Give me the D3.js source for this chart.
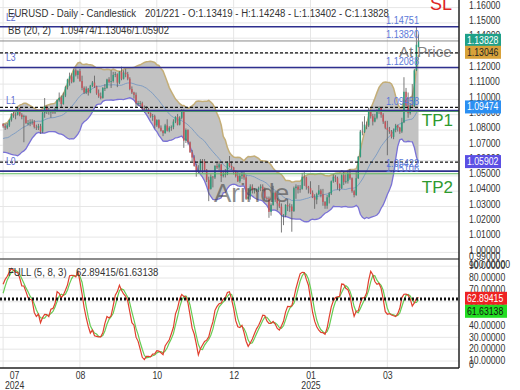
<!DOCTYPE html>
<html>
<head>
<meta charset="utf-8">
<script src="https://cdn.jsdelivr.net/npm/d3@7.9.0/dist/d3.min.js"></script>
<style>
  body { margin: 0; background: #fff; }
  svg { display: block; font-family: "Liberation Sans", Arial, sans-serif; }
</style>
</head>
<body>
<svg id="chart" width="520" height="390"></svg>
<script>
// daily candles, one per trading day (index 0..200)
const opens = [
  1.0840,1.0825,1.0815,1.0830,1.0865,1.0905,1.0895,1.0900,1.0940,1.0900,
  1.0885,1.0890,1.0845,1.0845,1.0850,1.0855,1.0820,1.0815,1.0825,1.0790,
  1.0910,1.0955,1.0930,1.0920,1.0920,1.0915,1.0935,1.0995,1.1010,1.0970,
  1.1025,1.1080,1.1130,1.1150,1.1115,1.1190,1.1160,1.1185,1.1120,1.1075,
  1.1045,1.1070,1.1045,1.1090,1.1110,1.1085,1.1040,1.1020,1.1010,1.1075,
  1.1075,1.1130,1.1115,1.1120,1.1160,1.1165,1.1110,1.1180,1.1135,1.1175,
  1.1165,1.1135,1.1068,1.1045,1.1030,1.0975,1.0975,1.0975,1.0940,1.0935,
  1.0935,1.0910,1.0890,1.0890,1.0830,1.0865,1.0815,1.0795,1.0780,1.0830,
  1.0795,1.0815,1.0820,1.0855,1.0885,1.0835,1.0880,1.0930,1.0730,1.0800,
  1.0720,1.0655,1.0620,1.0565,1.0530,1.0540,1.0600,1.0595,1.0540,1.0475,
  1.0415,1.0495,1.0490,1.0565,1.0555,1.0575,1.0500,1.0510,1.0512,1.0585,
  1.0565,1.0555,1.0525,1.0500,1.0465,1.0500,1.0510,1.0490,1.0350,1.0365,
  1.0430,1.0405,1.0405,1.0410,1.0420,1.0430,1.0410,1.0355,1.0352,1.0265,
  1.0310,1.0390,1.0345,1.0320,1.0300,1.0245,1.0245,1.0310,1.0300,1.0300,
  1.0270,1.0420,1.0430,1.0410,1.0415,1.0495,1.0490,1.0430,1.0420,1.0390,
  1.0360,1.0345,1.0380,1.0405,1.0380,1.0330,1.0305,1.0360,1.0385,1.0465,
  1.0495,1.0485,1.0445,1.0420,1.0505,1.0460,1.0465,1.0515,1.0485,1.0400,
  1.0375,1.0485,1.0625,1.0790,1.0785,1.0835,1.0830,1.0920,1.0890,1.0855,
  1.0880,1.0920,1.0945,1.0900,1.0855,1.0815,1.0800,1.0790,1.0755,1.0800,
  1.0830,1.0815,1.0790,1.0850,1.1050,1.0960,1.0910,1.0960,1.0955,1.1190,
  1.13419
];
const highs = [
  1.0845,1.0840,1.0845,1.0870,1.0910,1.0920,1.0915,1.0948,1.0945,1.0910,
  1.0900,1.0895,1.0865,1.0870,1.0870,1.0865,1.0835,1.0840,1.0840,1.0925,
  1.1009,1.0960,1.0945,1.0935,1.0935,1.0945,1.1000,1.1045,1.1025,1.1045,
  1.1090,1.1135,1.1175,1.1170,1.1200,1.1202,1.1190,1.1200,1.1155,1.1085,
  1.1085,1.1075,1.1095,1.1120,1.1155,1.1090,1.1065,1.1045,1.1080,1.1100,
  1.1135,1.1145,1.1190,1.1180,1.1180,1.1170,1.1185,1.1214,1.1190,1.1200,
  1.1180,1.1145,1.1085,1.1050,1.1045,1.0990,1.0990,1.0985,1.0960,1.0955,
  1.0945,1.0915,1.0905,1.0900,1.0870,1.0870,1.0830,1.0800,1.0840,1.0870,
  1.0825,1.0830,1.0870,1.0890,1.0905,1.0890,1.0937,1.0935,1.0810,1.0805,
  1.0725,1.0670,1.0635,1.0580,1.0570,1.0610,1.0610,1.0610,1.0545,1.0495,
  1.0510,1.0500,1.0570,1.0590,1.0595,1.0580,1.0535,1.0545,1.0595,1.0630,
  1.0595,1.0560,1.0535,1.0530,1.0520,1.0525,1.0525,1.0505,1.0415,1.0445,
  1.0445,1.0420,1.0415,1.0430,1.0445,1.0445,1.0425,1.0365,1.0365,1.0320,
  1.0435,1.0400,1.0355,1.0335,1.0320,1.0250,1.0315,1.0350,1.0320,1.0315,
  1.0430,1.0445,1.0440,1.0440,1.0520,1.0533,1.0495,1.0435,1.0465,1.0405,
  1.0380,1.0390,1.0440,1.0415,1.0415,1.0335,1.0375,1.0395,1.0470,1.0510,
  1.0505,1.0495,1.0450,1.0510,1.0530,1.0510,1.0530,1.0545,1.0490,1.0410,
  1.0525,1.0630,1.0800,1.0855,1.0890,1.0855,1.0947,1.0930,1.0905,1.0905,
  1.0935,1.0955,1.0950,1.0910,1.0860,1.0860,1.0820,1.0800,1.0810,1.0840,
  1.0835,1.0820,1.0880,1.1145,1.1075,1.1045,1.0975,1.1100,1.1200,1.1475,
  1.14248
];
const lows = [
  1.0815,1.0800,1.0805,1.0820,1.0855,1.0880,1.0870,1.0895,1.0890,1.0870,
  1.0720,1.0840,1.0830,1.0825,1.0835,1.0810,1.0800,1.0800,1.0775,1.0780,
  1.0880,1.0905,1.0900,1.0880,1.0905,1.0905,1.0925,1.0985,1.0950,1.0965,
  1.1015,1.1065,1.1090,1.1105,1.1110,1.1150,1.1135,1.1115,1.1060,1.1035,
  1.1035,1.1025,1.1040,1.1080,1.1075,1.1030,1.1010,1.1000,1.1005,1.1055,
  1.1070,1.1105,1.1075,1.1110,1.1145,1.1080,1.1100,1.1125,1.1130,1.1145,
  1.1125,1.1060,1.1035,1.1005,1.0950,1.0955,1.0955,1.0930,1.0915,1.0920,
  1.0905,1.0880,1.0860,1.0810,1.0820,1.0810,1.0790,1.0760,1.0775,1.0790,
  1.0785,1.0795,1.0805,1.0845,1.0830,1.0830,1.0870,1.0683,1.0715,1.0705,
  1.0650,1.0595,1.0560,1.0495,1.0515,1.0525,1.0520,1.0525,1.0460,1.0335,
  1.0410,1.0425,1.0480,1.0545,1.0535,1.0460,1.0490,1.0490,1.0505,1.0555,
  1.0540,1.0510,1.0490,1.0460,1.0455,1.0480,1.0475,1.0343,1.0345,1.0345,
  1.0385,1.0385,1.0395,1.0395,1.0400,1.0400,1.0345,1.0340,1.0226,1.0240,
  1.0305,1.0330,1.0275,1.0290,1.0130,1.0178,1.0230,1.0270,1.0265,1.0135,
  1.0265,1.0350,1.0385,1.0390,1.0410,1.0435,1.0410,1.0385,1.0380,1.0355,
  1.0285,1.0315,1.0375,1.0360,1.0305,1.0285,1.0285,1.0320,1.0375,1.0455,
  1.0460,1.0410,1.0400,1.0415,1.0440,1.0450,1.0450,1.0475,1.0390,1.0360,
  1.0370,1.0480,1.0620,1.0765,1.0780,1.0805,1.0820,1.0875,1.0830,1.0850,
  1.0870,1.0905,1.0880,1.0840,1.0805,1.0635,1.0775,1.0745,1.0740,1.0785,
  1.0790,1.0775,1.0780,1.0845,1.0955,1.0880,1.0900,1.0955,1.0950,1.1185,
  1.13402
];
const closes = [
  1.0825,1.0815,1.0830,1.0865,1.0905,1.0895,1.0900,1.0940,1.0900,1.0885,
  1.0890,1.0845,1.0845,1.0850,1.0855,1.0820,1.0815,1.0825,1.0790,1.0910,
  1.0955,1.0930,1.0920,1.0920,1.0915,1.0935,1.0995,1.1010,1.0970,1.1025,
  1.1080,1.1130,1.1150,1.1115,1.1190,1.1160,1.1185,1.1120,1.1075,1.1045,
  1.1070,1.1045,1.1090,1.1110,1.1085,1.1040,1.1020,1.1010,1.1075,1.1075,
  1.1130,1.1115,1.1120,1.1160,1.1165,1.1110,1.1180,1.1135,1.1175,1.1165,
  1.1135,1.1068,1.1045,1.1030,1.0975,1.0975,1.0975,1.0940,1.0935,1.0935,
  1.0910,1.0890,1.0890,1.0830,1.0865,1.0815,1.0795,1.0780,1.0830,1.0795,
  1.0815,1.0820,1.0855,1.0885,1.0835,1.0880,1.0930,1.0730,1.0800,1.0720,
  1.0655,1.0620,1.0565,1.0530,1.0540,1.0600,1.0595,1.0540,1.0475,1.0415,
  1.0495,1.0490,1.0565,1.0555,1.0575,1.0500,1.0510,1.0512,1.0585,1.0565,
  1.0555,1.0525,1.0500,1.0465,1.0500,1.0510,1.0490,1.0350,1.0365,1.0430,
  1.0405,1.0405,1.0410,1.0420,1.0430,1.0410,1.0355,1.0352,1.0265,1.0310,
  1.0390,1.0345,1.0320,1.0300,1.0245,1.0245,1.0310,1.0300,1.0300,1.0270,
  1.0420,1.0430,1.0410,1.0415,1.0495,1.0490,1.0430,1.0420,1.0390,1.0360,
  1.0345,1.0380,1.0405,1.0380,1.0330,1.0305,1.0360,1.0385,1.0465,1.0495,
  1.0485,1.0445,1.0420,1.0505,1.0460,1.0465,1.0515,1.0485,1.0400,1.0375,
  1.0485,1.0625,1.0790,1.0785,1.0835,1.0830,1.0920,1.0890,1.0855,1.0880,
  1.0920,1.0945,1.0900,1.0855,1.0815,1.0800,1.0790,1.0755,1.0800,1.0830,
  1.0815,1.0790,1.0850,1.1050,1.0960,1.0910,1.0960,1.0955,1.1190,1.1357,
  1.13828
];
// 20 sessions before the first visible candle (warm-up for BB and stochastic)
const priorHighs = [1.0780,1.0770,1.0850,1.0810,1.0745,1.0740,1.0760,1.0750,1.0745,1.0710,
                    1.0745,1.0740,1.0720,1.0720,1.0720,1.0775,1.0750,1.0800,1.0815,1.0845];
const priorLows = [1.0720,1.0720,1.0735,1.0735,1.0670,1.0700,1.0715,1.0720,1.0690,1.0670,
                   1.0690,1.0700,1.0675,1.0680,1.0690,1.0710,1.0710,1.0735,1.0785,1.0800];
const priorCloses = [1.0765,1.0740,1.0805,1.0740,1.0705,1.0735,1.0735,1.0745,1.0700,1.0690,
                     1.0735,1.0715,1.0680,1.0700,1.0713,1.0740,1.0745,1.0790,1.0810,1.0840];

// axes
const xTickIdx = [0, 37, 74, 111, 148, 185];
const xTickLabels = ['07', '08', '10', '12', '01', '03'];
const xTickYears = ['2024', '', '', '', '2025', ''];
const priceTicks = [0.99,1.00,1.01,1.02,1.03,1.04,1.05,1.06,1.07,1.08,1.09,1.10,1.11,1.12,1.13,1.14,1.15,1.16];
const stochTicks = [0,10,20,30,40,50,60,70,80,90,100];

// drawn levels
const levelNames = ['L2', 'L3', 'L1', 'L0'];
const levelValues = [1.14751, 1.12088, 1.09277, 1.05313];
const targetNames = ['TP1', 'TP2'];
const targetValues = [1.0922, 1.0514];
const lastPriceLine = 1.13820;
const bbNow = [1.13046, 1.09474, 1.05902];
const lineTags = ['1.14751', '1.13820', '1.12088', '1.09458', '1.05422', '1.05106'];
const lineTagValues = [1.14751, 1.13820, 1.12088, 1.09458, 1.05422, 1.05106];
const priceBoxValues = [1.13828, 1.13046, 1.09474, 1.05902];
const stochNow = [62.89415, 61.63138];

const W = 520, plotR = 459, mainB = 259, stochB = 368;
const svg = d3.select('#chart');

const x = d3.scaleLinear().domain([-1.5, 219.5]).range([0, plotR]);
const y = d3.scaleLinear().domain([0.99, 1.16]).range([267.7, 7.6]);
const ys = d3.scaleLinear().domain([0, 100]).range([372.9, 254.3]);

function squeezed(parent, px, py, str, size, fill, anchor = 'start') {
  return parent.append('g')
    .attr('transform', `translate(${px},${py}) scale(0.87,1)`)
    .append('text')
    .attr('text-anchor', anchor)
    .attr('font-size', size)
    .attr('fill', fill)
    .text(str);
}

const defs = svg.append('defs');
defs.append('clipPath').attr('id', 'clipMain')
  .append('rect').attr('x', 0).attr('y', 0).attr('width', plotR).attr('height', mainB);
defs.append('clipPath').attr('id', 'clipStoch')
  .append('rect').attr('x', 0).attr('y', mainB).attr('width', plotR).attr('height', stochB - mainB);

// indicators
const off = priorCloses.length;
const allC = priorCloses.concat(closes);
const allH = priorHighs.concat(highs);
const allL = priorLows.concat(lows);

const bands = closes.map((c, i) => {
  const w = allC.slice(i + off - 19, i + off + 1);
  const m = d3.mean(w);
  const sd = Math.sqrt(d3.mean(w, v => (v - m) ** 2));
  return { i, mid: m, up: m + 2 * sd, lo: m - 2 * sd };
});

const rawK = allC.map((c, j) => {
  if (j < 4) return null;
  const hh = d3.max(allH.slice(j - 4, j + 1));
  const ll = d3.min(allL.slice(j - 4, j + 1));
  return 100 * (c - ll) / (hh - ll);
});
const fullK = rawK.map((v, j) => j < 11 ? null : d3.mean(rawK.slice(j - 7, j + 1)));
const fullD = fullK.map((v, j) => j < 13 ? null : d3.mean(fullK.slice(j - 2, j + 1)));
const stoch = closes.map((c, i) => ({ i, k: fullK[i + off], d: fullD[i + off] }));

// grid
const grid = svg.append('g');
grid.append('g').attr('clip-path', 'url(#clipMain)')
  .selectAll('line').data(priceTicks).join('line')
  .attr('x1', 0).attr('x2', plotR)
  .attr('y1', d => y(d)).attr('y2', d => y(d))
  .attr('stroke', '#e6e6e6');
grid.append('g').attr('clip-path', 'url(#clipStoch)')
  .selectAll('line').data(stochTicks).join('line')
  .attr('x1', 0).attr('x2', plotR)
  .attr('y1', d => ys(d)).attr('y2', d => ys(d))
  .attr('stroke', '#e6e6e6');
grid.selectAll('line.v').data(xTickIdx).join('line').attr('class', 'v')
  .attr('x1', d => x(d)).attr('x2', d => x(d))
  .attr('y1', 0).attr('y2', stochB)
  .attr('stroke', '#e6e6e6');

// main panel
const main = svg.append('g').attr('clip-path', 'url(#clipMain)');

main.append('path').datum(bands)
  .attr('fill', '#c2c2c2')
  .attr('d', d3.area().x(d => x(d.i)).y0(d => y(d.lo)).y1(d => y(d.up)));
main.append('path').datum(bands)
  .attr('fill', 'none').attr('stroke', '#c4ae78').attr('stroke-width', 1.5)
  .attr('d', d3.line().x(d => x(d.i)).y(d => y(d.up)));
main.append('path').datum(bands)
  .attr('fill', 'none').attr('stroke', '#7a72d6').attr('stroke-width', 1.3)
  .attr('d', d3.line().x(d => x(d.i)).y(d => y(d.lo)));
main.append('path').datum(bands)
  .attr('fill', 'none').attr('stroke', '#7f9dc2').attr('stroke-width', 1)
  .attr('d', d3.line().x(d => x(d.i)).y(d => y(d.mid)));

const candles = closes.map((c, i) => ({ i, o: opens[i], h: highs[i], l: lows[i], c }));
main.append('g').selectAll('line').data(candles).join('line')
  .attr('x1', d => x(d.i)).attr('x2', d => x(d.i))
  .attr('y1', d => y(d.h)).attr('y2', d => y(d.l))
  .attr('stroke', '#5a5a5a').attr('stroke-width', 0.8);
main.append('g').selectAll('rect').data(candles).join('rect')
  .attr('x', d => x(d.i) - 0.75).attr('width', 1.5)
  .attr('y', d => y(Math.max(d.o, d.c)))
  .attr('height', d => Math.max(0.8, Math.abs(y(d.o) - y(d.c))))
  .attr('fill', d => d.c >= d.o ? '#2f9b7b' : '#c6545a');

// levels
const lv = svg.append('g');
lv.selectAll('line.tp').data(targetValues).join('line').attr('class', 'tp')
  .attr('x1', 0).attr('x2', plotR).attr('y1', d => y(d)).attr('y2', d => y(d))
  .attr('stroke', '#5cb85c').attr('stroke-width', 1.2);
lv.append('line')
  .attr('x1', 0).attr('x2', plotR).attr('y1', y(lastPriceLine)).attr('y2', y(lastPriceLine))
  .attr('stroke', '#8a8a8a').attr('stroke-width', 1);
lv.selectAll('line.lvl').data(levelValues).join('line').attr('class', 'lvl')
  .attr('x1', 0).attr('x2', plotR).attr('y1', d => y(d)).attr('y2', d => y(d))
  .attr('stroke', '#2e2f8e').attr('stroke-width', 1.6);
lv.selectAll('line.bb').data(bbNow).join('line').attr('class', 'bb')
  .attr('x1', 0).attr('x2', plotR).attr('y1', d => y(d)).attr('y2', d => y(d))
  .attr('stroke', '#111').attr('stroke-width', 1.3).attr('stroke-dasharray', '3,2');

levelNames.forEach((n, k) => squeezed(lv, 6, y(levelValues[k]) - 6, n, 10, '#5b6bd0'));
lineTags.forEach((t, k) => squeezed(lv, 419, y(lineTagValues[k]) - 2.5, t, 10.5, '#5b78d8', 'end'));

targetNames.forEach((n, k) => lv.append('text')
  .attr('x', 453).attr('y', y(targetValues[k]) + [15, 19][k])
  .attr('text-anchor', 'end').attr('font-size', 17).attr('fill', '#2e9a2e').text(n));
lv.append('text').attr('x', 452).attr('y', 10).attr('text-anchor', 'end')
  .attr('font-size', 18).attr('fill', '#dd2222').text('SL');
lv.append('text').attr('x', 399).attr('y', 57)
  .attr('font-size', 15).attr('fill', '#6a6a6a').attr('fill-opacity', 0.85).text('At Price');
lv.append('text').attr('x', 214).attr('y', 202)
  .attr('font-size', 26).attr('fill', '#444').attr('fill-opacity', 0.6).text('Arinde');

// stochastic panel
const st = svg.append('g').attr('clip-path', 'url(#clipStoch)');
st.append('path').datum(stoch)
  .attr('fill', 'none').attr('stroke', '#66cc55').attr('stroke-width', 1.2)
  .attr('d', d3.line().x(d => x(d.i)).y(d => ys(d.d)));
st.append('path').datum(stoch)
  .attr('fill', 'none').attr('stroke', '#e0402e').attr('stroke-width', 1.2)
  .attr('d', d3.line().x(d => x(d.i)).y(d => ys(d.k)));
st.selectAll('line.now').data(stochNow).join('line').attr('class', 'now')
  .attr('x1', 0).attr('x2', plotR).attr('y1', d => ys(d)).attr('y2', d => ys(d))
  .attr('stroke', '#111').attr('stroke-width', 1.4).attr('stroke-dasharray', '2,2');

// frame
svg.append('line').attr('x1', 0).attr('x2', plotR).attr('y1', mainB).attr('y2', mainB)
  .attr('stroke', '#666').attr('stroke-width', 1.5);
svg.append('line').attr('x1', 0).attr('x2', plotR).attr('y1', stochB).attr('y2', stochB)
  .attr('stroke', '#222').attr('stroke-width', 1.5);
svg.append('line').attr('x1', plotR).attr('x2', plotR).attr('y1', 0).attr('y2', stochB)
  .attr('stroke', '#222').attr('stroke-width', 1.5);

// right axes
const pAxis = svg.append('g').attr('transform', 'translate(469,0)')
  .call(d3.axisRight(y).tickValues(priceTicks).tickSize(0).tickPadding(0).tickFormat(d => d.toFixed(5)));
pAxis.select('.domain').remove();
pAxis.selectAll('.tick').attr('transform', d => `translate(0,${Math.max(5, Math.min(257, y(d) - 2))})`);
pAxis.selectAll('text').attr('font-size', 10).attr('fill', '#333').attr('dy', '0.32em')
  .attr('transform', 'scale(0.87,1)');

const sAxis = svg.append('g').attr('transform', 'translate(469,0)')
  .call(d3.axisRight(ys).tickValues(stochTicks).tickSize(0).tickPadding(0)
    .tickFormat(d => d === 0 ? '0' : d.toFixed(5)));
sAxis.select('.domain').remove();
sAxis.selectAll('.tick').attr('transform', d => `translate(0,${Math.max(265, Math.min(365, ys(d)))})`);
sAxis.selectAll('text').attr('font-size', 10).attr('fill', '#333')
  .attr('transform', 'scale(0.87,1)');

// value boxes
const boxFill = ['#1fa088', '#d8a23a', '#2b8ff2', '#5b4fe4'];
const boxText = ['#fff', '#222', '#fff', '#fff'];
const pb = svg.append('g');
priceBoxValues.forEach((v, k) => {
  const cy = y(v) - 0.5;
  pb.append('rect').attr('x', 465).attr('y', cy - 6.5).attr('width', 36).attr('height', 13).attr('fill', boxFill[k]);
  squeezed(pb, 467, cy + 3.5, v.toFixed(5), 10, boxText[k]);
});
const sFill = ['#ee2222', '#22dd22'];
const sText = ['#fff', '#111'];
let prevY = -100;
stochNow.forEach((v, k) => {
  let cy = ys(v);
  if (cy < prevY + 13) cy = prevY + 13;
  prevY = cy;
  pb.append('rect').attr('x', 465).attr('y', cy - 6.5).attr('width', 42).attr('height', 13).attr('fill', sFill[k]);
  squeezed(pb, 467, cy + 3.5, v.toFixed(5), 10, sText[k]);
});

// bottom axis
const xAxis = svg.append('g').attr('transform', `translate(0,${stochB})`)
  .call(d3.axisBottom(x).tickValues(xTickIdx).tickSize(0).tickPadding(4)
    .tickFormat((d, i) => xTickLabels[i]));
xAxis.select('.domain').remove();
xAxis.selectAll('text').attr('font-size', 10).attr('fill', '#333')
  .attr('transform', (d, i) => i === 0 ? 'translate(11,0) scale(0.87,1)' : 'scale(0.87,1)')
  .each(function (d, i) {
    if (xTickYears[i]) {
      d3.select(this).append('tspan').attr('x', 0).attr('dy', '1.0em').text(xTickYears[i]);
    }
  });

// header texts
squeezed(svg, 8, 17, 'EURUSD - Daily - Candlestick', 11, '#333');
squeezed(svg, 145, 17, '201/221 - O:1.13419 - H:1.14248 - L:1.13402 - C:1.13828', 11, '#333');
squeezed(svg, 8, 33.5, 'BB (20, 2)', 11, '#333');
squeezed(svg, 60, 33.5, '1.09474/1.13046/1.05902', 11, '#333');
squeezed(svg, 8, 276, 'FULL (5, 8, 3)', 11, '#333');
squeezed(svg, 76, 276, '62.89415/61.63138', 11, '#333');
</script>
</body>
</html>
